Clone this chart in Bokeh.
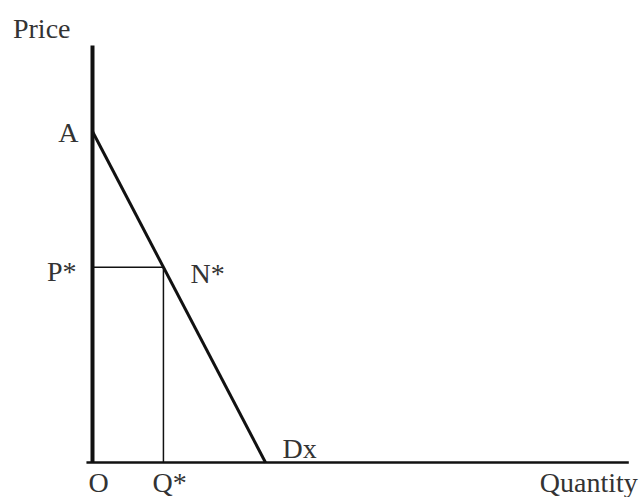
from bokeh.plotting import figure
from bokeh.models import Range1d, ColumnDataSource
from bokeh.core.properties import value
from bokeh.embed import file_html
from bokeh.resources import INLINE

# Linear demand curve Dx: price intercept A, quantity intercept where it meets the axis
price_intercept = 10.0      # point A
quantity_intercept = 10.0   # where Dx meets the quantity axis
q_star = 4.1                # chosen quantity Q*
p_star = 5.9                # price P* at point N* on Dx

price_axis_top = 12.6
quantity_axis_start = -0.35
quantity_axis_end = 31.0

FONT = value("Liberation Serif")
TEXT_COLOR = "#333333"
LINE_COLOR = "#111111"

p = figure(width=640, height=497, output_backend="svg", toolbar_location=None,
           x_range=Range1d(-5.318, 31.676), y_range=Range1d(-1.057, 13.958),
           min_border=0)
p.axis.visible = False
p.grid.visible = False
p.outline_line_color = None
p.background_fill_color = "white"
p.border_fill_color = "white"

# Axes drawn as plain segments
p.line([0, 0], [0, price_axis_top], line_color=LINE_COLOR, line_width=4)
p.line([quantity_axis_start, quantity_axis_end], [0, 0], line_color=LINE_COLOR, line_width=2.5)

# Demand curve from A to the quantity axis
p.line([0, quantity_intercept], [price_intercept, 0], line_color=LINE_COLOR, line_width=3)

# Guide lines from N* to each axis
p.line([0, q_star], [p_star, p_star], line_color=LINE_COLOR, line_width=1.5)
p.line([q_star, q_star], [p_star, 0], line_color=LINE_COLOR, line_width=1.5)

labels = ColumnDataSource(dict(
    x=[0, 0, 0, q_star, quantity_intercept, 0, q_star, quantity_axis_end],
    y=[price_axis_top, price_intercept, p_star, p_star, 0, 0, 0, 0],
    text=["Price", "A", "P*", "N*", "Dx", "O", "Q*", "Quantity"],
    dx=[-22, -14, -16, 27, 17, -4, -11, 9],
    dy=[-17, 1, 4, 6, -14, 20, 20, 20],
    align=["right", "right", "right", "left", "left", "left", "left", "right"],
))
p.text(x="x", y="y", text="text", source=labels, x_offset="dx", y_offset="dy",
       text_align="align", text_baseline="alphabetic",
       text_font=FONT, text_font_size="28px", text_color=TEXT_COLOR)

open("out.html", "w").write(file_html(p, INLINE))
